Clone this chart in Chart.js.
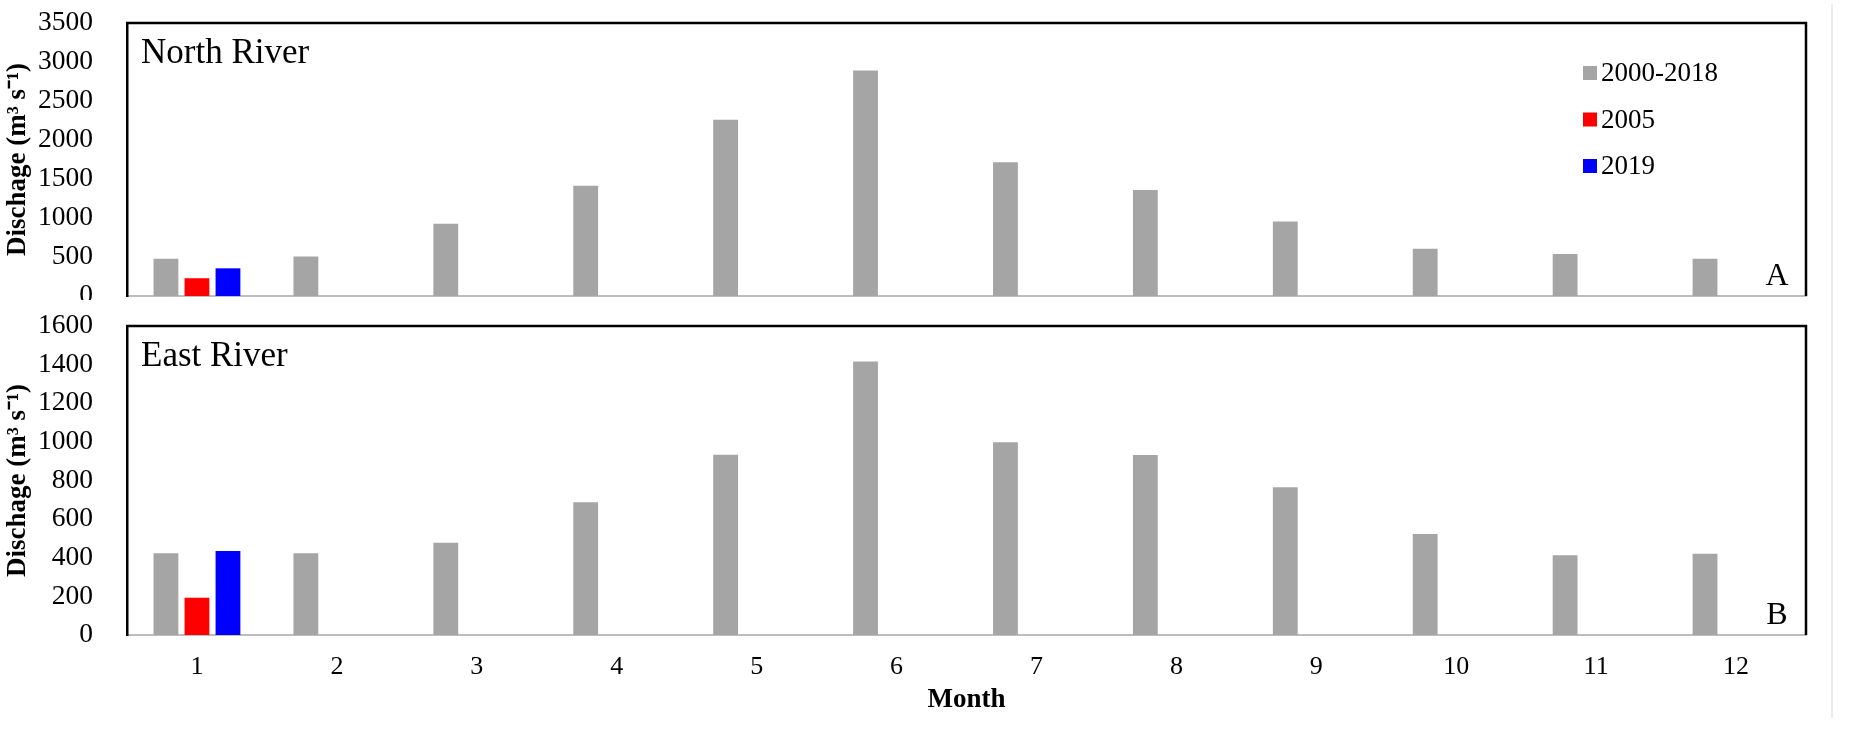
<!DOCTYPE html>
<html>
<head>
<meta charset="utf-8">
<script src="https://cdn.jsdelivr.net/npm/chart.js@4.4.1/dist/chart.umd.min.js"></script>
<style>
  html, body { margin: 0; padding: 0; background: #fff; }
  #wrap { position: relative; width: 1850px; height: 739px; overflow: hidden; }
  #north { position: absolute; left: 0; top: 0; }
  #east { position: absolute; left: 0; top: 300px; }
  #edge { position: absolute; left: 1831px; top: 4px; width: 2px; height: 714px; background: #ececec; }
</style>
</head>
<body>
<div id="wrap">
  <canvas id="north" width="1850" height="300"></canvas>
  <canvas id="east" width="1850" height="439"></canvas>
  <div id="edge"></div>
</div>
<script>
// months on the x axis
const months = ['1', '2', '3', '4', '5', '6', '7', '8', '9', '10', '11', '12'];
const seriesNames = ['2000-2018', '2005', '2019'];
const seriesColors = ['#a5a5a5', '#ff0000', '#0000ff'];

// North River discharge (m3/s)
const northMean = [478, 505, 925, 1415, 2260, 2890, 1715, 1360, 955, 605, 540, 477];
const north2005 = [228, null, null, null, null, null, null, null, null, null, null, null];
const north2019 = [355, null, null, null, null, null, null, null, null, null, null, null];
const northTicks = [0, 500, 1000, 1500, 2000, 2500, 3000, 3500];

// East River discharge (m3/s)
const eastMean = [423, 423, 478, 687, 933, 1416, 998, 932, 765, 523, 413, 421];
const east2005 = [193, null, null, null, null, null, null, null, null, null, null, null];
const east2019 = [435, null, null, null, null, null, null, null, null, null, null, null];
const eastTicks = [0, 200, 400, 600, 800, 1000, 1200, 1400, 1600];

const serif = "'Liberation Serif', 'Times New Roman', serif";
const yTitle = 'Dischage (m\u00b3 s\u207b\u00b9)';

// frame, panel name, panel letter and (top only) the legend
const panelDeco = {
    id: 'panelDeco',
    afterDraw(chart, args, opts) {
        const ctx = chart.ctx;
        const a = chart.chartArea;
        ctx.save();
        ctx.strokeStyle = '#000';
        ctx.lineWidth = 2.5;
        ctx.beginPath();
        ctx.moveTo(a.left - 1, a.top);
        ctx.lineTo(a.right, a.top);
        ctx.lineTo(a.right, a.bottom);
        ctx.stroke();

        ctx.fillStyle = '#000';
        ctx.textBaseline = 'alphabetic';
        ctx.textAlign = 'left';
        ctx.font = '35px ' + serif;
        ctx.fillText(opts.name, a.left + 14, a.top + 40);

        ctx.textAlign = 'center';
        ctx.font = '32px ' + serif;
        ctx.fillText(opts.letter, a.right - 29, a.bottom - 11);

        if (opts.legend) {
            ctx.textAlign = 'left';
            ctx.textBaseline = 'middle';
            ctx.font = '27px ' + serif;
            chart.data.datasets.forEach((ds, i) => {
                const cy = 73 + i * 46.5;
                ctx.fillStyle = ds.backgroundColor;
                ctx.fillRect(1583, cy - 7, 14, 14);
                ctx.fillStyle = '#000';
                ctx.fillText(ds.label, 1601, cy + 1);
            });
        }
        ctx.restore();
    }
};

function makeChart(id, mean, y2005, y2019, ticks, opts) {
    const ctx = document.getElementById(id).getContext('2d');
    const datasets = [mean, y2005, y2019].map((d, i) => ({
        label: seriesNames[i],
        data: d,
        backgroundColor: seriesColors[i],
        borderWidth: 0,
        categoryPercentage: 0.665,
        barPercentage: 0.8
    }));
    return new Chart(ctx, {
        type: 'bar',
        data: { labels: months, datasets: datasets },
        plugins: [panelDeco],
        options: {
            responsive: false,
            animation: false,
            layout: { padding: { top: opts.padTop, right: 44, left: 0, bottom: 0 } },
            plugins: {
                legend: { display: false },
                tooltip: { enabled: false },
                panelDeco: { name: opts.name, letter: opts.letter, legend: opts.legend }
            },
            scales: {
                x: {
                    grid: { display: false, drawTicks: false },
                    border: { display: true, color: '#bdbdbd', width: 2 },
                    ticks: {
                        display: opts.showX,
                        color: '#000',
                        padding: 17,
                        maxRotation: 0,
                        font: { family: serif, size: 26 }
                    },
                    title: {
                        display: opts.showX,
                        text: 'Month',
                        color: '#000',
                        padding: { top: 0, bottom: 23 },
                        font: { family: serif, size: 27, weight: 'bold' }
                    },
                    afterFit: s => { s.height = opts.xHeight; }
                },
                y: {
                    min: ticks[0],
                    max: ticks[ticks.length - 1],
                    afterBuildTicks: s => { s.ticks = ticks.map(v => ({ value: v })); },
                    grid: { display: false, drawTicks: false },
                    border: { display: true, color: '#000', width: 2.5 },
                    ticks: {
                        color: '#000',
                        padding: 34,
                        font: { family: serif, size: 27.5 },
                        callback: v => String(v)
                    },
                    title: {
                        display: true,
                        text: yTitle,
                        color: '#000',
                        padding: { top: 2, bottom: 0 },
                        font: { family: serif, size: 27, weight: 'bold' }
                    },
                    afterFit: s => {
                        s.width = 127;
                        s.paddingTop = 0;
                        s.paddingBottom = 0;
                    }
                }
            }
        }
    });
}

makeChart('north', northMean, north2005, north2019, northTicks,
    { padTop: 23, xHeight: 4, showX: false, name: 'North River', letter: 'A', legend: true });
makeChart('east', eastMean, east2005, east2019, eastTicks,
    { padTop: 26, xHeight: 104, showX: true, name: 'East River', letter: 'B', legend: false });
</script>
</body>
</html>
